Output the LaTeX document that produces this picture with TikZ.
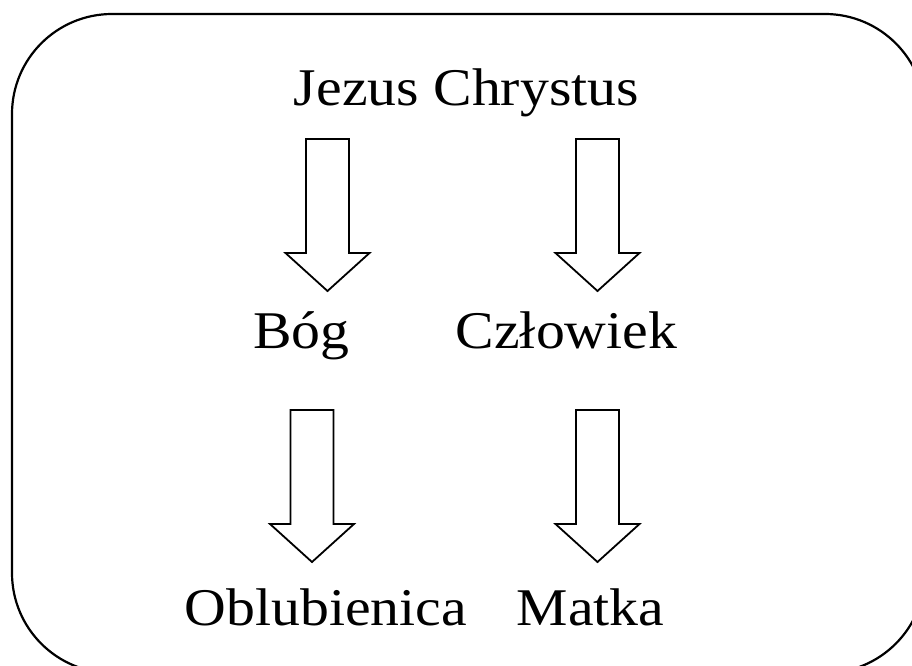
\documentclass[tikz,border=0pt]{standalone}
\usepackage{fontspec}
\setmainfont{Liberation Serif}
\tikzset{
  word/.style={font=\fontsize{53}{60}\selectfont, anchor=base, inner sep=0pt, xscale=1.09, transform shape},
  frame/.style={line width=2.2pt, rounded corners=100pt},
  hollow/.style={line width=1.8pt, fill=white, line join=miter}
}
% block arrow pointing down: #1 axis x, #2 top y (measured downwards)
\newcommand{\blockarrow}[2]{%
\draw[hollow] (#1-21.5,-#2) -- (#1+21.5,-#2) -- (#1+21.5,-#2-114) -- (#1+42,-#2-114)
  -- (#1,-#2-152) -- (#1-42,-#2-114) -- (#1-21.5,-#2-114) -- cycle;}

\begin{document}
\begin{tikzpicture}[x=1pt,y=1pt]
\useasboundingbox (0,0) rectangle (912,-665);
\clip (0,0) rectangle (912,-665);
\draw[frame] (12,-14) rectangle (925,-673);
\node[word] (jc) at (466.5,-105) {Jezus Chrystus};
\node[word] (bog) at (301.5,-348) {Bóg};
\node[word] (czl) at (566.5,-348) {Człowiek};
\node[word] (obl) at (326,-625) {Oblubienica};
\node[word] (matka) at (590.5,-625) {Matka};
\blockarrow{327.5}{139} % to Bog
\blockarrow{597.5}{139} % to Czlowiek
\blockarrow{312}{410} % to Oblubienica
\blockarrow{597.5}{410} % to Matka
\end{tikzpicture}
\end{document}
